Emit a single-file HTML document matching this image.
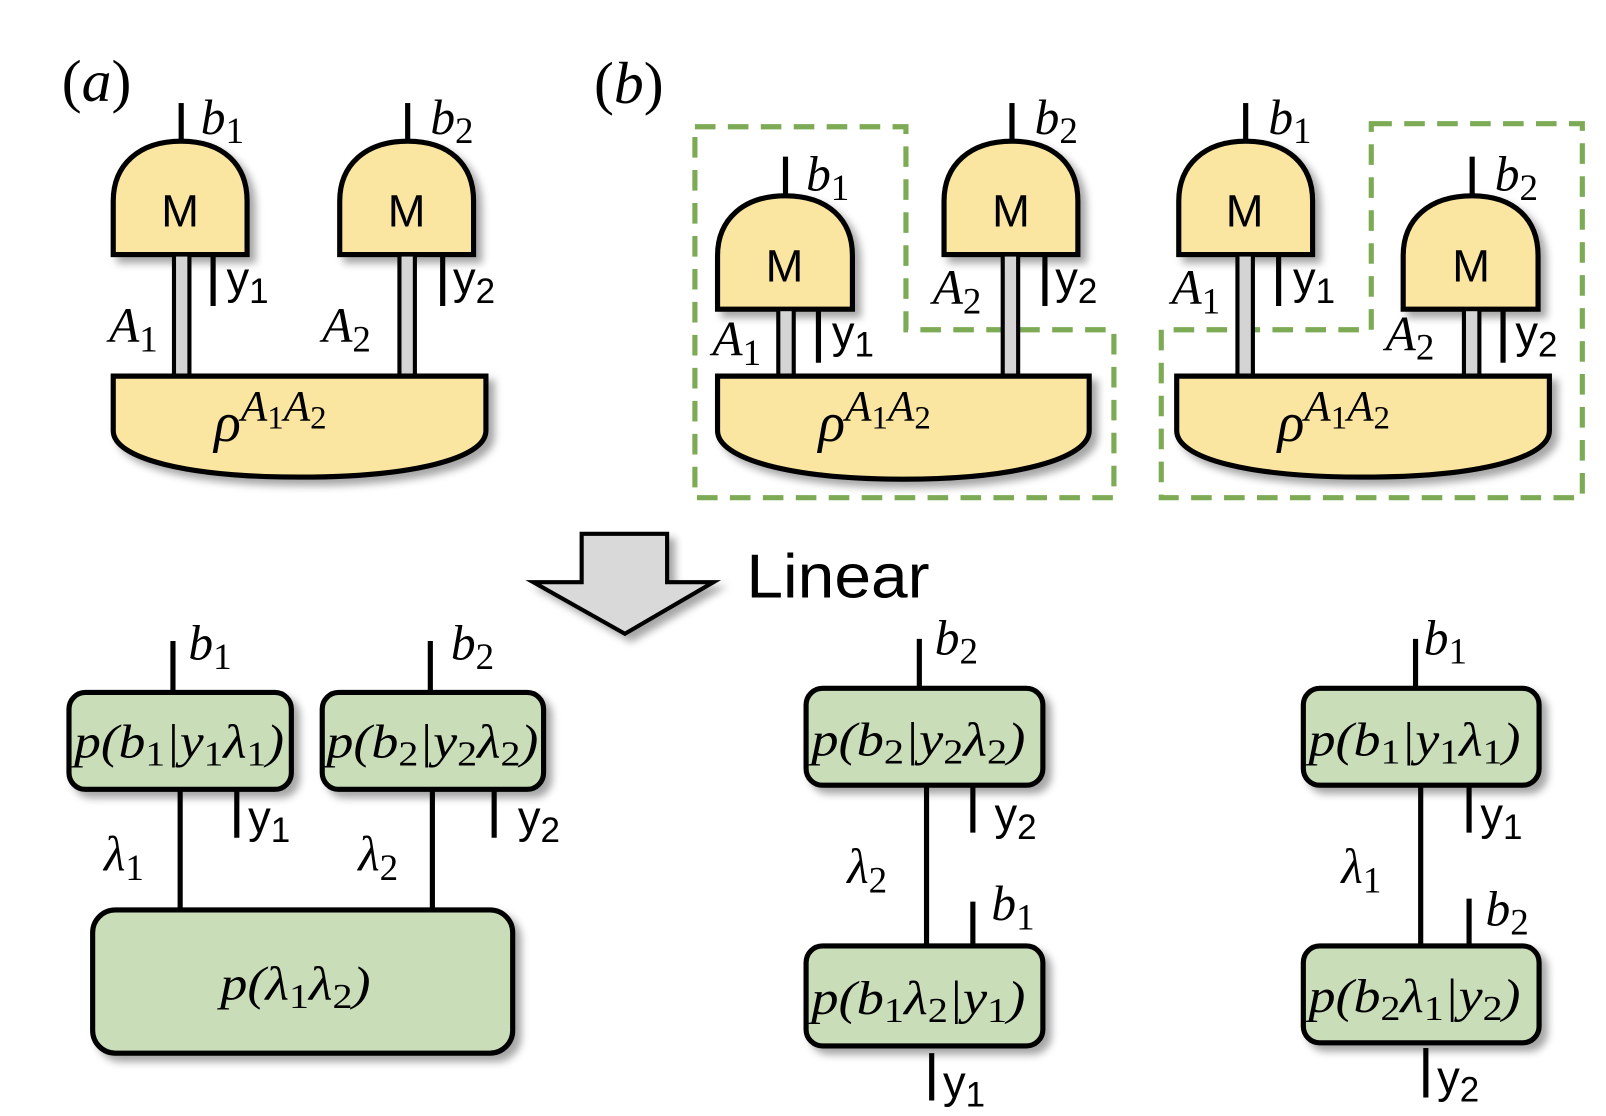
<!DOCTYPE html>
<html><head><meta charset="utf-8"><style>
html,body{margin:0;padding:0;background:#fff;}
svg{display:block}
.m{font-family:"Liberation Serif",serif;font-style:italic;font-size:48px;fill:#000}
.u{font-family:"Liberation Sans",sans-serif;font-size:44px;fill:#000}
.g{fill:#fae5a1;stroke:#000;stroke-width:5}
.bx{fill:#c9ddb9;stroke:#000;stroke-width:5}
.w{stroke:#000;stroke-width:5;fill:none}
.d{fill:none;stroke:#7dab55;stroke-width:5;stroke-dasharray:20 12}
.p{font-family:"Liberation Serif",serif;font-style:italic;font-size:46px;fill:#000}
</style></head><body>
<svg width="1606" height="1116" viewBox="0 0 1560 1083" preserveAspectRatio="none" xmlns="http://www.w3.org/2000/svg">
<defs><filter id="sh" x="-20%" y="-20%" width="150%" height="150%"><feDropShadow dx="6" dy="6" stdDeviation="4" flood-color="#000" flood-opacity="0.35"/></filter></defs>

<text class="m" x="60" y="98" style="font-size:58px;font-style:normal">(<tspan font-style="italic">a</tspan>)</text>
<text class="m" x="577" y="100" style="font-size:58px;font-style:normal">(<tspan font-style="italic">b</tspan>)</text>

<!-- a gate1 -->
<line class="w" x1="176" y1="100" x2="176" y2="140"/>
<path class="g" filter="url(#sh)" d="M110 247 V195 C110 160 135 137 176 137 C217 137 240 160 240 195 V247 Z"/>
<text class="u" x="175" y="220" text-anchor="middle">M</text>
<text class="m" x="195" y="130">b<tspan font-style="normal" font-size="36" dy="9">1</tspan></text>
<rect x="169" y="249" width="15" height="116" fill="#d4d4d4"/><line class="w" x1="169" y1="247" x2="169" y2="365" style="stroke-width:4"/><line class="w" x1="184" y1="247" x2="184" y2="365" style="stroke-width:4"/>
<line class="w" x1="207" y1="247" x2="207" y2="297"/>
<text class="u" x="220" y="285">y<tspan font-size="34" dy="9">1</tspan></text>
<text class="m" x="106" y="332">A<tspan font-style="normal" font-size="36" dy="9">1</tspan></text>
<!-- a gate2 -->
<line class="w" x1="396" y1="100" x2="396" y2="140"/>
<path class="g" filter="url(#sh)" d="M330 247 V195 C330 160 355 137 396 137 C437 137 460 160 460 195 V247 Z"/>
<text class="u" x="395" y="220" text-anchor="middle">M</text>
<text class="m" x="418" y="130">b<tspan font-style="normal" font-size="36" dy="9">2</tspan></text>
<rect x="388" y="249" width="15" height="116" fill="#d4d4d4"/><line class="w" x1="388" y1="247" x2="388" y2="365" style="stroke-width:4"/><line class="w" x1="403" y1="247" x2="403" y2="365" style="stroke-width:4"/>
<line class="w" x1="430" y1="247" x2="430" y2="297"/>
<text class="u" x="440" y="285">y<tspan font-size="34" dy="9">2</tspan></text>
<text class="m" x="313" y="332">A<tspan font-style="normal" font-size="36" dy="9">2</tspan></text>
<path class="g" filter="url(#sh)" d="M110 365 H472 V418 C472 445 400 463 291 463 C182 463 110 445 110 418 Z"/>
<text class="m" x="208" y="428" style="font-size:54px">ρ<tspan font-size="42" dy="-20">A</tspan><tspan font-style="normal" font-size="32" dy="8">1</tspan><tspan font-size="42" dy="-8">A</tspan><tspan font-style="normal" font-size="32" dy="8">2</tspan></text>

<!-- b left -->
<path class="d" d="M675 123 H880 V320 H1082 V483 H675 Z"/>
<line class="w" x1="763" y1="152" x2="763" y2="192"/>
<path class="g" filter="url(#sh)" d="M697 300 V248 C697 213 722 190 763 190 C804 190 828 213 828 248 V300 Z"/>
<text class="u" x="762" y="273" text-anchor="middle">M</text>
<text class="m" x="783" y="185">b<tspan font-style="normal" font-size="36" dy="9">1</tspan></text>
<rect x="756" y="302" width="15" height="63" fill="#d4d4d4"/><line class="w" x1="756" y1="300" x2="756" y2="365" style="stroke-width:4"/><line class="w" x1="771" y1="300" x2="771" y2="365" style="stroke-width:4"/>
<line class="w" x1="795" y1="300" x2="795" y2="352"/>
<text class="u" x="808" y="337">y<tspan font-size="34" dy="9">1</tspan></text>
<text class="m" x="692" y="345">A<tspan font-style="normal" font-size="36" dy="9">1</tspan></text>
<line class="w" x1="983" y1="100" x2="983" y2="140"/>
<path class="g" filter="url(#sh)" d="M917 247 V195 C917 160 942 137 983 137 C1024 137 1047 160 1047 195 V247 Z"/>
<text class="u" x="982" y="220" text-anchor="middle">M</text>
<text class="m" x="1005" y="130">b<tspan font-style="normal" font-size="36" dy="9">2</tspan></text>
<rect x="974" y="249" width="15" height="116" fill="#d4d4d4"/><line class="w" x1="974" y1="247" x2="974" y2="365" style="stroke-width:4"/><line class="w" x1="989" y1="247" x2="989" y2="365" style="stroke-width:4"/>
<line class="w" x1="1015" y1="247" x2="1015" y2="297"/>
<text class="u" x="1025" y="285">y<tspan font-size="34" dy="9">2</tspan></text>
<text class="m" x="906" y="295">A<tspan font-style="normal" font-size="36" dy="9">2</tspan></text>
<path class="g" filter="url(#sh)" d="M697 365 H1058 V418 C1058 445 987 465 877 465 C767 465 697 445 697 418 Z"/>
<text class="m" x="795" y="428" style="font-size:54px">ρ<tspan font-size="42" dy="-20">A</tspan><tspan font-style="normal" font-size="32" dy="8">1</tspan><tspan font-size="42" dy="-8">A</tspan><tspan font-style="normal" font-size="32" dy="8">2</tspan></text>

<!-- b right -->
<path class="d" d="M1332 120 H1537 V483 H1128 V320 H1332 Z"/>
<line class="w" x1="1210" y1="100" x2="1210" y2="140"/>
<path class="g" filter="url(#sh)" d="M1145 247 V195 C1145 160 1170 137 1210 137 C1251 137 1275 160 1275 195 V247 Z"/>
<text class="u" x="1209" y="220" text-anchor="middle">M</text>
<text class="m" x="1232" y="130">b<tspan font-style="normal" font-size="36" dy="9">1</tspan></text>
<rect x="1202" y="249" width="15" height="116" fill="#d4d4d4"/><line class="w" x1="1202" y1="247" x2="1202" y2="365" style="stroke-width:4"/><line class="w" x1="1217" y1="247" x2="1217" y2="365" style="stroke-width:4"/>
<line class="w" x1="1242" y1="247" x2="1242" y2="297"/>
<text class="u" x="1256" y="285">y<tspan font-size="34" dy="9">1</tspan></text>
<text class="m" x="1138" y="295">A<tspan font-style="normal" font-size="36" dy="9">1</tspan></text>
<line class="w" x1="1430" y1="152" x2="1430" y2="192"/>
<path class="g" filter="url(#sh)" d="M1363 300 V248 C1363 213 1388 190 1430 190 C1471 190 1494 213 1494 248 V300 Z"/>
<text class="u" x="1429" y="273" text-anchor="middle">M</text>
<text class="m" x="1452" y="185">b<tspan font-style="normal" font-size="36" dy="9">2</tspan></text>
<rect x="1422" y="302" width="15" height="63" fill="#d4d4d4"/><line class="w" x1="1422" y1="300" x2="1422" y2="365" style="stroke-width:4"/><line class="w" x1="1437" y1="300" x2="1437" y2="365" style="stroke-width:4"/>
<line class="w" x1="1460" y1="300" x2="1460" y2="352"/>
<text class="u" x="1472" y="337">y<tspan font-size="34" dy="9">2</tspan></text>
<text class="m" x="1346" y="340">A<tspan font-style="normal" font-size="36" dy="9">2</tspan></text>
<path class="g" filter="url(#sh)" d="M1143 365 H1505 V418 C1505 445 1434 463 1324 463 C1214 463 1143 445 1143 418 Z"/>
<text class="m" x="1241" y="428" style="font-size:54px">ρ<tspan font-size="42" dy="-20">A</tspan><tspan font-style="normal" font-size="32" dy="8">1</tspan><tspan font-size="42" dy="-8">A</tspan><tspan font-style="normal" font-size="32" dy="8">2</tspan></text>

<!-- arrow -->
<path filter="url(#sh)" d="M565 518 H648 V565 H693 L607 615 L518 565 H565 Z" fill="#d9d9d9" stroke="#000" stroke-width="4"/>
<text class="u" x="725" y="580" style="font-size:60px" textLength="178" lengthAdjust="spacingAndGlyphs">Linear</text>

<!-- bottom left -->
<line class="w" x1="168" y1="622" x2="168" y2="672"/>
<line class="w" x1="418" y1="622" x2="418" y2="672"/>
<text class="m" x="183" y="640">b<tspan font-style="normal" font-size="36" dy="9">1</tspan></text>
<text class="m" x="438" y="640">b<tspan font-style="normal" font-size="36" dy="9">2</tspan></text>
<line class="w" x1="175" y1="766" x2="175" y2="885"/>
<line class="w" x1="420" y1="766" x2="420" y2="885"/>
<line class="w" x1="230" y1="766" x2="230" y2="813"/>
<line class="w" x1="480" y1="766" x2="480" y2="813"/>
<text class="u" x="241" y="808">y<tspan font-size="34" dy="9">1</tspan></text>
<text class="u" x="503" y="808">y<tspan font-size="34" dy="9">2</tspan></text>
<text class="m" x="101" y="845">λ<tspan font-style="normal" font-size="36" dy="9">1</tspan></text>
<text class="m" x="348" y="845">λ<tspan font-style="normal" font-size="36" dy="9">2</tspan></text>
<rect class="bx" filter="url(#sh)" x="67" y="672" width="216" height="94" rx="16"/>
<rect class="bx" filter="url(#sh)" x="313" y="672" width="215" height="94" rx="16"/>
<rect class="bx" filter="url(#sh)" x="90" y="883" width="408" height="139" rx="22"/>
<text class="p" x="72" y="735" textLength="204" lengthAdjust="spacingAndGlyphs">p(b<tspan font-style="normal" font-size="34" dy="8">1</tspan><tspan dy="-8">|y</tspan><tspan font-style="normal" font-size="34" dy="8">1</tspan><tspan dy="-8">λ</tspan><tspan font-style="normal" font-size="34" dy="8">1</tspan><tspan dy="-8">)</tspan></text>
<text class="p" x="317" y="735" textLength="206" lengthAdjust="spacingAndGlyphs">p(b<tspan font-style="normal" font-size="34" dy="8">2</tspan><tspan dy="-8">|y</tspan><tspan font-style="normal" font-size="34" dy="8">2</tspan><tspan dy="-8">λ</tspan><tspan font-style="normal" font-size="34" dy="8">2</tspan><tspan dy="-8">)</tspan></text>
<text class="p" x="214" y="970" textLength="146" lengthAdjust="spacingAndGlyphs">p(λ<tspan font-style="normal" font-size="34" dy="8">1</tspan><tspan dy="-8">λ</tspan><tspan font-style="normal" font-size="34" dy="8">2</tspan><tspan dy="-8">)</tspan></text>

<!-- bottom middle -->
<line class="w" x1="893" y1="620" x2="893" y2="668"/>
<text class="m" x="908" y="635">b<tspan font-style="normal" font-size="36" dy="9">2</tspan></text>
<line class="w" x1="900" y1="762" x2="900" y2="918"/>
<line class="w" x1="945" y1="762" x2="945" y2="808"/>
<line class="w" x1="945" y1="875" x2="945" y2="918"/>
<text class="u" x="966" y="805">y<tspan font-size="34" dy="9">2</tspan></text>
<text class="m" x="823" y="857">λ<tspan font-style="normal" font-size="36" dy="9">2</tspan></text>
<text class="m" x="963" y="893">b<tspan font-style="normal" font-size="36" dy="9">1</tspan></text>
<rect class="bx" filter="url(#sh)" x="783" y="668" width="230" height="94" rx="16"/>
<rect class="bx" filter="url(#sh)" x="783" y="918" width="230" height="97" rx="16"/>
<text class="p" x="788" y="733" textLength="208" lengthAdjust="spacingAndGlyphs">p(b<tspan font-style="normal" font-size="34" dy="8">2</tspan><tspan dy="-8">|y</tspan><tspan font-style="normal" font-size="34" dy="8">2</tspan><tspan dy="-8">λ</tspan><tspan font-style="normal" font-size="34" dy="8">2</tspan><tspan dy="-8">)</tspan></text>
<text class="p" x="788" y="984" textLength="208" lengthAdjust="spacingAndGlyphs">p(b<tspan font-style="normal" font-size="34" dy="8">1</tspan><tspan dy="-8">λ</tspan><tspan font-style="normal" font-size="34" dy="8">2</tspan><tspan dy="-8">|y</tspan><tspan font-style="normal" font-size="34" dy="8">1</tspan><tspan dy="-8">)</tspan></text>
<line class="w" x1="905" y1="1022" x2="905" y2="1068"/>
<text class="u" x="916" y="1065">y<tspan font-size="34" dy="9">1</tspan></text>

<!-- bottom right -->
<line class="w" x1="1375" y1="620" x2="1375" y2="668"/>
<text class="m" x="1383" y="635">b<tspan font-style="normal" font-size="36" dy="9">1</tspan></text>
<line class="w" x1="1380" y1="762" x2="1380" y2="918"/>
<line class="w" x1="1427" y1="762" x2="1427" y2="808"/>
<line class="w" x1="1427" y1="872" x2="1427" y2="918"/>
<text class="u" x="1438" y="805">y<tspan font-size="34" dy="9">1</tspan></text>
<text class="m" x="1303" y="857">λ<tspan font-style="normal" font-size="36" dy="9">1</tspan></text>
<text class="m" x="1443" y="898">b<tspan font-style="normal" font-size="36" dy="9">2</tspan></text>
<rect class="bx" filter="url(#sh)" x="1266" y="668" width="229" height="94" rx="16"/>
<rect class="bx" filter="url(#sh)" x="1266" y="918" width="229" height="94" rx="16"/>
<text class="p" x="1271" y="733" textLength="206" lengthAdjust="spacingAndGlyphs">p(b<tspan font-style="normal" font-size="34" dy="8">1</tspan><tspan dy="-8">|y</tspan><tspan font-style="normal" font-size="34" dy="8">1</tspan><tspan dy="-8">λ</tspan><tspan font-style="normal" font-size="34" dy="8">1</tspan><tspan dy="-8">)</tspan></text>
<text class="p" x="1271" y="982" textLength="206" lengthAdjust="spacingAndGlyphs">p(b<tspan font-style="normal" font-size="34" dy="8">2</tspan><tspan dy="-8">λ</tspan><tspan font-style="normal" font-size="34" dy="8">1</tspan><tspan dy="-8">|y</tspan><tspan font-style="normal" font-size="34" dy="8">2</tspan><tspan dy="-8">)</tspan></text>
<line class="w" x1="1385" y1="1017" x2="1385" y2="1065"/>
<text class="u" x="1396" y="1060">y<tspan font-size="34" dy="9">2</tspan></text>
</svg>
</body></html>
